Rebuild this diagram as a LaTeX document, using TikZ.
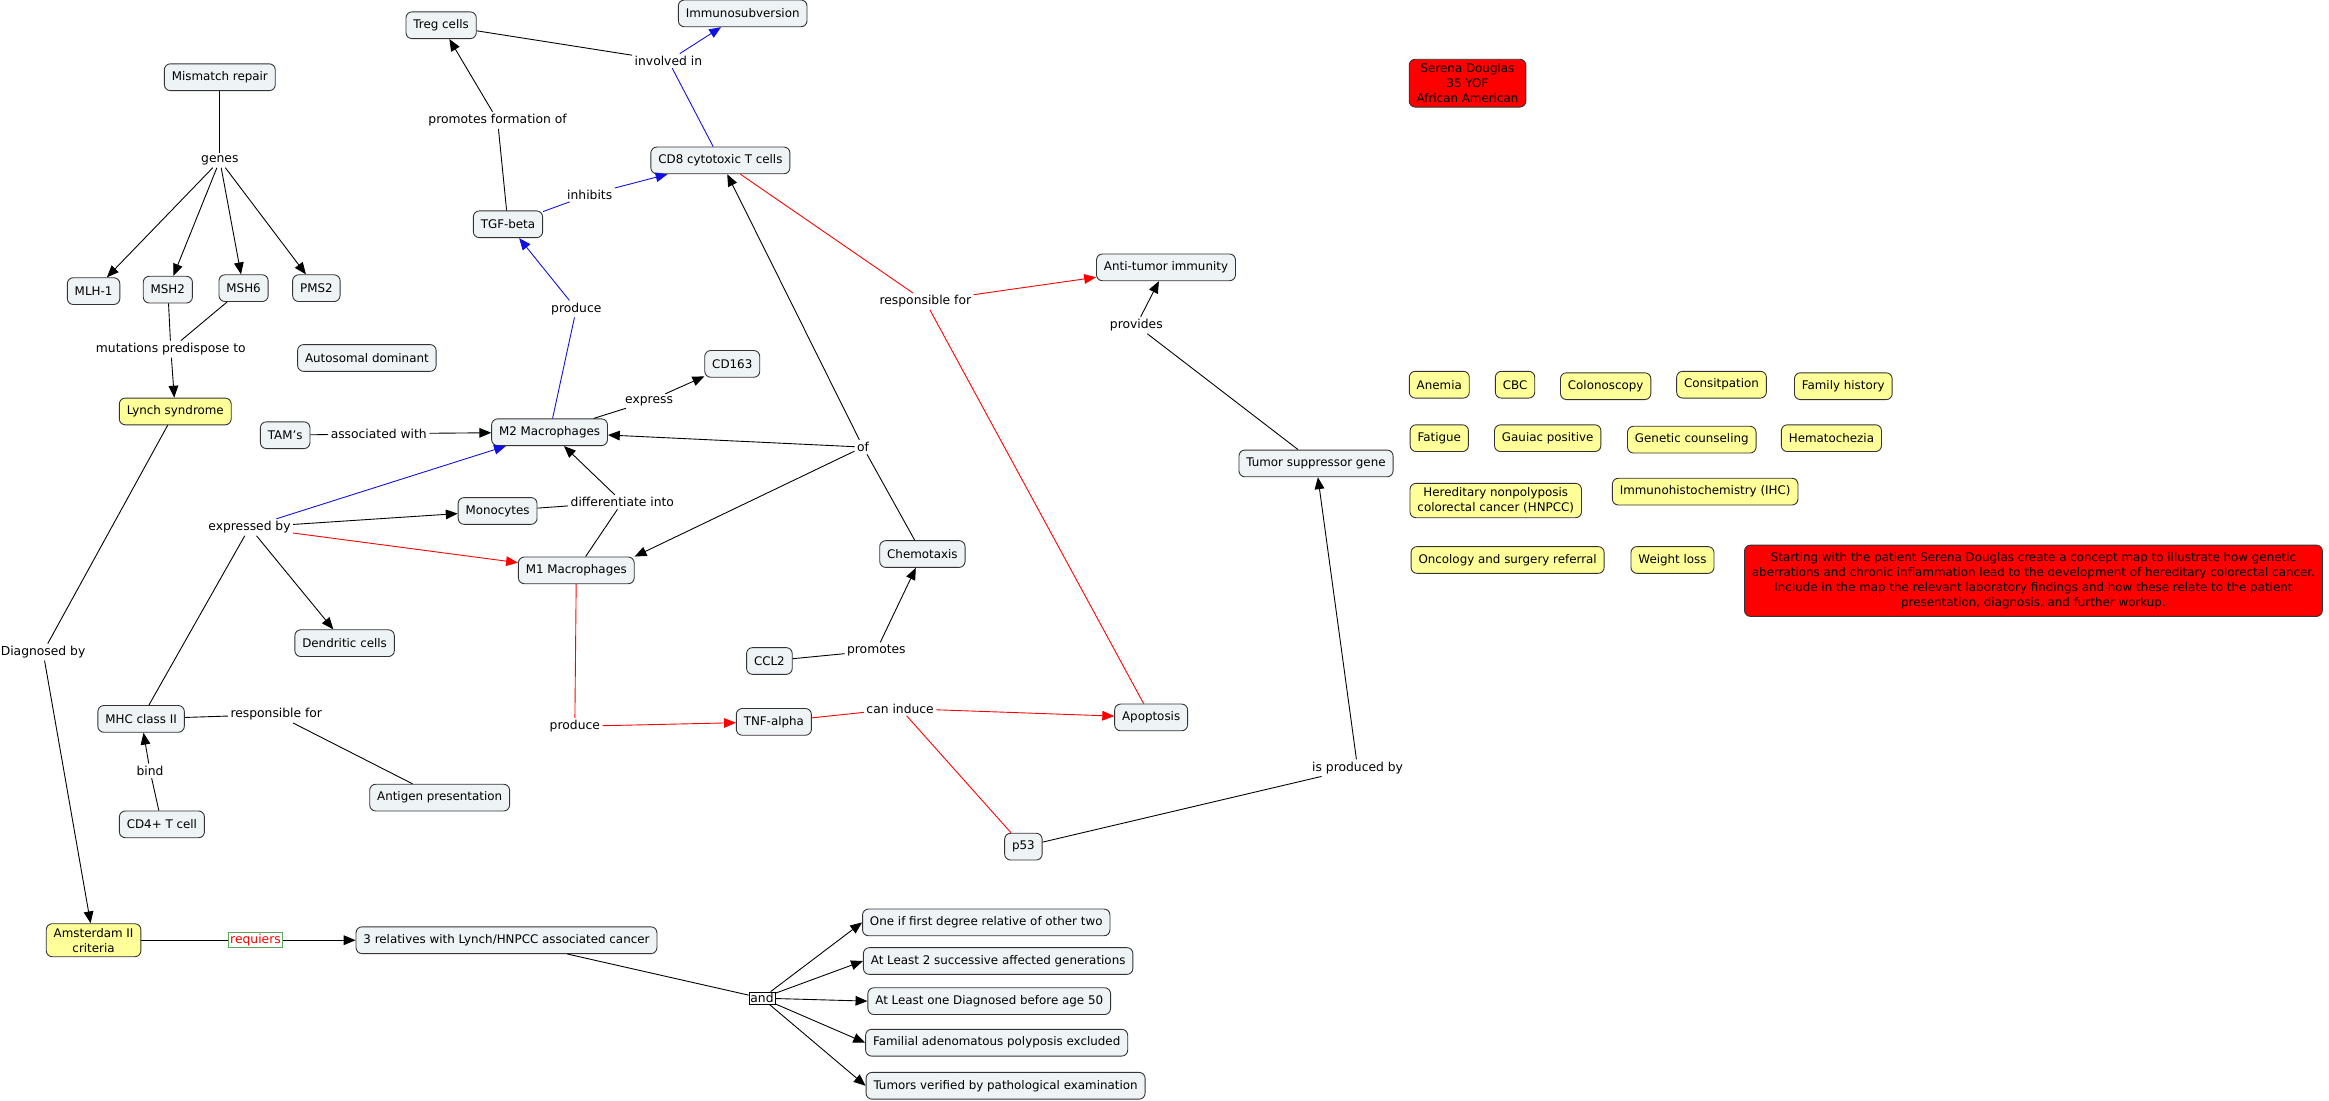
\documentclass[tikz,border=0pt]{standalone}
\usepackage{fontspec}
\setmainfont{DejaVu Sans}
\usetikzlibrary{arrows.meta}
\definecolor{cbox}{HTML}{EEF3F5}
\definecolor{cyel}{HTML}{FFFF99}
\definecolor{cred}{HTML}{FF0000}
\definecolor{cblue}{HTML}{1010E0}
\definecolor{cgreen}{HTML}{5FA55F}
\tikzset{
  concept/.style={draw=black!80, fill=cbox, rounded corners=4pt, line width=0.6pt,
    inner xsep=5pt, inner ysep=3pt, minimum height=18pt,
    font=\fontsize{8}{10}\selectfont, align=center},
  yel/.style={concept, fill=cyel},
  redbox/.style={concept, fill=cred},
  lnk/.style={inner sep=1.5pt, font=\fontsize{8.3}{10}\selectfont},
  conn/.style={line width=0.6pt},
  arr/.style={conn, -{Triangle[length=8pt,width=6.5pt]}},
}
\begin{document}
\begin{tikzpicture}[x=1pt,y=-1pt]
\useasboundingbox (0,0) rectangle (1568,741);
% concepts
\node[concept] (treg) at (297,17) {Treg cells};
\node[concept] (immuno) at (500,9) {Immunosubversion};
\node[concept] (mmr) at (148,52) {Mismatch repair};
\node[concept] (mlh) at (63,196) {MLH-1};
\node[concept] (msh2) at (113,195) {MSH2};
\node[concept] (msh6) at (164,194) {MSH6};
\node[concept] (pms2) at (213,194) {PMS2};
\node[concept] (auto) at (247,241) {Autosomal dominant};
\node[yel] (lynch) at (118,277) {Lynch syndrome};
\node[concept] (tams) at (192,293) {TAM's};
\node[concept] (m2) at (370,291) {M2 Macrophages};
\node[concept] (tgf) at (342,151) {TGF-beta};
\node[concept] (cd8) at (485,108) {CD8 cytotoxic T cells};
\node[concept] (cd163) at (493,245) {CD163};
\node[concept] (anti) at (785,180) {Anti-tumor immunity};
\node[concept] (tsg) at (886,312) {Tumor suppressor gene};
\node[concept] (mono) at (335,344) {Monocytes};
\node[concept] (m1) at (388,384) {M1 Macrophages};
\node[concept] (dend) at (232,433) {Dendritic cells};
\node[concept] (chemo) at (621,373) {Chemotaxis};
\node[concept] (ccl2) at (518,445) {CCL2};
\node[concept] (mhc) at (95,484) {MHC class II};
\node[concept] (antigen) at (296,537) {Antigen presentation};
\node[concept] (cd4) at (109,555) {CD4+ T cell};
\node[concept] (tnf) at (521,486) {TNF-alpha};
\node[concept] (apop) at (775,483) {Apoptosis};
\node[concept] (p53) at (689,570) {p53};
\node[yel] (amst) at (63,633) {Amsterdam II\\criteria};
\node[concept] (rel3) at (341,633) {3 relatives with Lynch/HNPCC associated cancer};
\node[concept] (c1) at (664,621) {One if first degree relative of other two};
\node[concept] (c2) at (672,647) {At Least 2 successive affected generations};
\node[concept] (c3) at (666,674) {At Least one Diagnosed before age 50};
\node[concept] (c4) at (671,702) {Familial adenomatous polyposis excluded};
\node[concept] (c5) at (677,731) {Tumors verified by pathological examination};
\node[redbox] (serena) at (988,56) {Serena Douglas\\35 YOF\\African American};
\node[yel] (anemia) at (969,259) {Anemia};
\node[yel] (cbc) at (1020,259) {CBC};
\node[yel] (colon) at (1081,260) {Colonoscopy};
\node[yel] (consit) at (1159,259) {Consitpation};
\node[yel] (famhist) at (1241,260) {Family history};
\node[yel] (fatigue) at (969,295) {Fatigue};
\node[yel] (gauiac) at (1042,295) {Gauiac positive};
\node[yel] (genc) at (1139,296) {Genetic counseling};
\node[yel] (hemato) at (1233,295) {Hematochezia};
\node[yel] (hnpcc) at (1007,337) {Hereditary nonpolyposis\\colorectal cancer (HNPCC)};
\node[yel] (ihc) at (1148,331) {Immunohistochemistry (IHC)};
\node[yel] (onco) at (1015,377) {Oncology and surgery referral};
\node[yel] (wloss) at (1126,377) {Weight loss};
\node[redbox, minimum height=48pt] (task) at (1369,391) {Starting with the patient Serena Douglas create a concept map to illustrate how genetic\\aberrations and chronic inflammation lead to the development of hereditary colorectal cancer.\\Include in the map the relevant laboratory findings and how these relate to the patient\\presentation, diagnosis, and further workup.};
% linking phrases
\node[lnk] (genes) at (148,108) {genes};
\node[lnk] (mutpre) at (115,235) {mutations predispose to};
\node[lnk] (assoc) at (255,292) {associated with};
\node[lnk] (prod1) at (388,208) {produce};
\node[lnk] (promform) at (335,81) {promotes formation of};
\node[lnk] (inhib) at (397,131) {inhibits};
\node[lnk] (invol) at (450,41) {involved in};
\node[lnk] (expr) at (437,270) {express};
\node[lnk] (resp1) at (623,203) {responsible for};
\node[lnk] (provides) at (765,219) {provides};
\node[lnk] (of) at (581,301) {of};
\node[lnk] (diff) at (419,338) {differentiate into};
\node[lnk] (exprby) at (168,355) {expressed by};
\node[lnk] (diag) at (29,439) {Diagnosed by};
\node[lnk] (resp2) at (186,481) {responsible for};
\node[lnk] (bind) at (101,519) {bind};
\node[lnk] (prod2) at (387,489) {produce};
\node[lnk] (promotes) at (590,438) {promotes};
\node[lnk] (caninduce) at (606,477) {can induce};
\node[lnk] (isprod) at (914,517) {is produced by};
\node[lnk, draw=cgreen, text=red, fill=white, inner sep=1pt] (requiers) at (172,633) {requiers};
\node[lnk, draw=black, fill=white, inner sep=1pt] (and) at (513,672) {and};
% connections
\draw[conn] (mmr) -- (genes);
\foreach \t in {mlh,msh2,msh6,pms2} \draw[arr] (genes) -- (\t);
\draw[conn] (msh2) -- (mutpre);
\draw[conn] (msh6) -- (mutpre);
\draw[arr] (mutpre) -- (lynch);
\draw[conn] (tams) -- (assoc);
\draw[arr] (assoc) -- (m2);
\draw[conn, cblue] (m2) -- (prod1);
\draw[arr, cblue] (prod1) -- (tgf);
\draw[conn] (tgf) -- (promform);
\draw[arr] (promform) -- (treg);
\draw[conn, cblue] (tgf) -- (inhib);
\draw[arr, cblue] (inhib) -- (cd8);
\draw[conn] (treg) -- (invol);
\draw[conn, cblue] (cd8) -- (invol);
\draw[arr, cblue] (invol) -- (immuno);
\draw[conn] (m2) -- (expr);
\draw[arr] (expr) -- (cd163);
\draw[conn, red] (cd8) -- (resp1);
\draw[conn, red] (apop) -- (resp1);
\draw[arr, red] (resp1) -- (anti);
\draw[conn] (tsg) -- (provides);
\draw[arr] (provides) -- (anti);
\draw[conn] (chemo) -- (of);
\draw[arr] (of) -- (m2);
\draw[arr] (of) -- (m1.north east);
\draw[arr] (of) -- (cd8);
\draw[conn] (mono) -- (diff);
\draw[conn] (m1) -- (diff);
\draw[arr] (diff) -- (m2);
\draw[conn] (mhc) -- (exprby);
\draw[arr, cblue] (exprby) -- (m2);
\draw[arr] (exprby) -- (mono);
\draw[arr, red] (exprby) -- (m1);
\draw[arr] (exprby) -- (dend);
\draw[conn] (lynch) -- (diag);
\draw[arr] (diag) -- (amst);
\draw[conn] (mhc) -- (resp2);
\draw[conn] (resp2) -- (antigen);
\draw[conn] (cd4) -- (bind);
\draw[arr] (bind) -- (mhc);
\draw[conn, red] (m1) -- (prod2);
\draw[arr, red] (prod2) -- (tnf);
\draw[conn] (ccl2) -- (promotes);
\draw[arr] (promotes) -- (chemo);
\draw[conn, red] (tnf) -- (caninduce);
\draw[conn, red] (p53) -- (caninduce);
\draw[arr, red] (caninduce) -- (apop);
\draw[conn] (p53) -- (isprod);
\draw[arr] (isprod) -- (tsg);
\draw[conn] (amst) -- (requiers);
\draw[arr] (requiers) -- (rel3);
\draw[conn] (rel3) -- (and);
\foreach \t in {c1,c2,c3,c4,c5} \draw[arr] (and) -- (\t.west);
\end{tikzpicture}
\end{document}
